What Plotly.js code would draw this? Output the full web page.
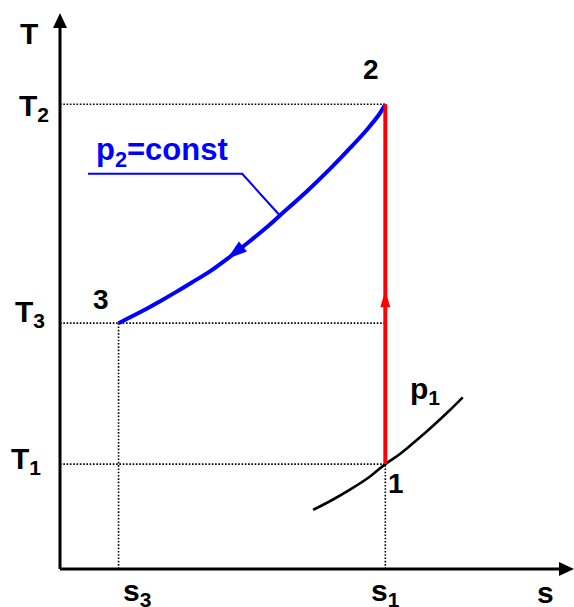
<!DOCTYPE html>
<html>
<head>
<meta charset="utf-8">
<script src="https://cdn.plot.ly/plotly-3.0.1.min.js"></script>
<style>
  html, body { margin: 0; padding: 0; background: #fff; }
  #chart { width: 574px; height: 607px; }
</style>
</head>
<body>
<div id="chart"></div>
<script>
// State points of the cycle (entropy s, temperature T)
const s1 = 5.0, s3 = 0.9;
const T1 = 300, T3 = 703, T2 = 1329;

// Compression 1 -> 2 at constant entropy
const compS = [s1, s1];
const compT = [T1, T2];
const compArrowT = 797;            // where the direction arrow sits on 1 -> 2

// Isobar p2 = const, from state 3 up to state 2
const isoP2S = [0.90, 1.28, 1.54, 1.80, 2.04, 2.31, 2.57, 2.92, 3.20, 3.38, 3.80, 4.15, 4.46, 4.72, 4.92, 5.00];
const isoP2T = [703, 739, 766, 794, 821, 852, 887, 938, 981, 1011, 1081, 1144, 1204, 1257, 1304, 1329];
const isoP2ArrowIdx = 6;           // point carrying the 2 -> 3 direction arrow
const isoP2LabelIdx = 9;           // point the label leader touches

// Isobar p1 through state 1
const isoP1S = [3.89, 4.19, 4.50, 4.76, 5.00, 5.22, 5.48, 5.73, 5.99, 6.19];
const isoP1T = [169, 198, 232, 264, 300, 328, 368, 409, 454, 491];

// Leader line for the p2 label (start, corner)
const leaderS = [0.43, 2.80];
const leaderT = [1130, 1130];

// Axis extents
const sMax = 7.9, TMax = 1590;

const W = 574, H = 607;
const M = {l: 60, r: 0, t: 13, b: 38};
const pxPerS = (W - M.l - M.r) / sMax;
const pxPerT = (H - M.t - M.b) / TMax;

const FONT = "'Liberation Sans', Arial, Helvetica, sans-serif";
const BLUE = '#0000ff', RED = '#ff0000', BLACK = '#000000';

// Triangle arrowhead with its tip at the anchor; angle in degrees (y up)
function arrowHead(angleDeg, len, half) {
  const a = angleDeg * Math.PI / 180;
  const c = Math.cos(a), s = Math.sin(a);
  const bx = -len * c, by = -len * s;
  const px = -s * half, py = c * half;
  const f = v => v.toFixed(2);
  return `M0,0 L${f(bx + px)},${f(by + py)} L${f(bx - px)},${f(by - py)} Z`;
}

// Direction of travel along p2 (towards state 3), in screen units
const ai = isoP2ArrowIdx;
const dirX = (isoP2S[ai] - isoP2S[ai + 1]) * pxPerS;
const dirY = (isoP2T[ai] - isoP2T[ai + 1]) * pxPerT;
const isoArrowAngle = Math.atan2(dirY, dirX) * 180 / Math.PI;

const traces = [
  { x: isoP1S, y: isoP1T, mode: 'lines', line: {color: BLACK, width: 2.6, shape: 'spline', smoothing: 1}, hoverinfo: 'skip' },
  { x: isoP2S, y: isoP2T, mode: 'lines', line: {color: BLUE, width: 4, shape: 'spline', smoothing: 1}, hoverinfo: 'skip' },
  { x: leaderS.concat([isoP2S[isoP2LabelIdx]]), y: leaderT.concat([isoP2T[isoP2LabelIdx]]),
    mode: 'lines', line: {color: BLUE, width: 2}, hoverinfo: 'skip' },
  { x: compS, y: compT, mode: 'lines', line: {color: RED, width: 4}, hoverinfo: 'skip' }
];

const dotted = {color: BLACK, width: 1.6, dash: '1.6px,1.7px'};
const shapes = [
  {type: 'line', xref: 'x', yref: 'y', x0: 0, x1: s1, y0: T2, y1: T2, line: dotted, layer: 'below'},
  {type: 'line', xref: 'x', yref: 'y', x0: 0, x1: s1, y0: T3, y1: T3, line: dotted, layer: 'below'},
  {type: 'line', xref: 'x', yref: 'y', x0: 0, x1: s1, y0: T1, y1: T1, line: dotted, layer: 'below'},
  {type: 'line', xref: 'x', yref: 'y', x0: s3, x1: s3, y0: 0, y1: T3, line: dotted, layer: 'below'},
  {type: 'line', xref: 'x', yref: 'y', x0: s1, x1: s1, y0: 0, y1: T1, line: dotted, layer: 'below'},
  // axes with arrow tips
  {type: 'line', xref: 'paper', yref: 'paper', x0: 0, x1: 0, y0: 0, y1: 0.985, line: {color: BLACK, width: 3}},
  {type: 'line', xref: 'paper', yref: 'paper', x0: 0, x1: 0.985, y0: 0, y1: 0, line: {color: BLACK, width: 3}},
  {type: 'path', xref: 'paper', yref: 'paper', xsizemode: 'pixel', ysizemode: 'pixel', xanchor: 0, yanchor: 1,
   path: arrowHead(90, 15, 7), fillcolor: BLACK, line: {width: 0}},
  {type: 'path', xref: 'paper', yref: 'paper', xsizemode: 'pixel', ysizemode: 'pixel', xanchor: 1, yanchor: 0,
   path: arrowHead(0, 15, 7), fillcolor: BLACK, line: {width: 0}},
  // process direction arrows
  {type: 'path', xref: 'x', yref: 'y', xsizemode: 'pixel', ysizemode: 'pixel', xanchor: s1, yanchor: compArrowT,
   path: arrowHead(90, 17, 5), fillcolor: RED, line: {width: 0}},
  {type: 'path', xref: 'x', yref: 'y', xsizemode: 'pixel', ysizemode: 'pixel',
   xanchor: isoP2S[ai], yanchor: isoP2T[ai],
   path: arrowHead(isoArrowAngle, 20, 6.5), fillcolor: BLUE, line: {width: 0}}
];

function label(text, opts, size, color) {
  return Object.assign({
    text: '<b>' + text + '</b>', showarrow: false, xanchor: 'center', yanchor: 'middle',
    font: {family: FONT, size: size || 29, color: color || BLACK}
  }, opts);
}

const annotations = [
  label('T', {xref: 'paper', yref: 'paper', x: 0, y: 1, xshift: -31, yshift: -20}, 30),
  label('s', {xref: 'paper', yref: 'y', x: 1, y: 0, xshift: -29, yshift: -23}, 30),
  label('T<sub>2</sub>', {xref: 'paper', yref: 'y', x: 0, y: T2, xshift: -26.5, yshift: -3.5}, 30),
  label('T<sub>3</sub>', {xref: 'paper', yref: 'y', x: 0, y: T3, xshift: -30, yshift: 10}, 30),
  label('T<sub>1</sub>', {xref: 'paper', yref: 'y', x: 0, y: T1, xshift: -34, yshift: 3.5}, 30),
  label('s<sub>3</sub>', {xref: 'x', yref: 'y', x: s3, y: 0, xshift: 18, yshift: -23}, 30),
  label('s<sub>1</sub>', {xref: 'x', yref: 'y', x: s1, y: 0, xshift: 0, yshift: -23}, 30),
  label('1', {xref: 'x', yref: 'y', x: s1, y: T1, xshift: 11, yshift: -19}, 28),
  label('2', {xref: 'x', yref: 'y', x: s1, y: T2, xshift: -14, yshift: 35}, 28),
  label('3', {xref: 'x', yref: 'y', x: s3, y: T3, xshift: -18, yshift: 24}, 28),
  label('p<sub>1</sub>', {xref: 'x', yref: 'y', x: isoP1S[isoP1S.length - 1], y: isoP1T[isoP1T.length - 1],
    xshift: -38, yshift: 7}, 30),
  label('p<sub>2</sub>=const', {xref: 'x', yref: 'y', x: leaderS[0], y: leaderT[0], xshift: 74.5, yshift: 22}, 31, BLUE)
];

const hiddenAxis = {showgrid: false, zeroline: false, showline: false, showticklabels: false, ticks: '', fixedrange: true};

const layout = {
  width: W, height: H,
  margin: M,
  paper_bgcolor: '#ffffff', plot_bgcolor: '#ffffff',
  showlegend: false,
  xaxis: Object.assign({range: [0, sMax]}, hiddenAxis),
  yaxis: Object.assign({range: [0, TMax]}, hiddenAxis),
  shapes: shapes,
  annotations: annotations
};

Plotly.newPlot('chart', traces, layout, {displayModeBar: false, staticPlot: true});
</script>
</body>
</html>
